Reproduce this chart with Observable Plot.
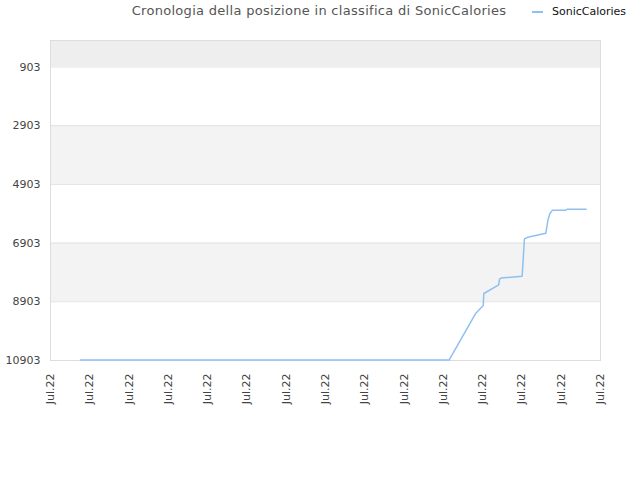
<!DOCTYPE html>
<html>
<head>
<meta charset="utf-8">
<script src="https://cdn.jsdelivr.net/npm/d3@7"></script>
<script src="https://cdn.jsdelivr.net/npm/@observablehq/plot@0.6"></script>
<style>
  body { margin: 0; background: #fff; font-family: "DejaVu Sans", sans-serif; }
  #wrap { position: relative; width: 640px; height: 480px; }
  #title { position: absolute; left: 0; width: 640px; top: 3px; text-align: center; font-size: 13px; color: #555; letter-spacing: 0.3px; padding-right: 0px; box-sizing: border-box; }
  #title span { position: relative; left: -1px; }
  #legend { position: absolute; left: 532px; top: 5px; font-size: 11px; color: #111; display: flex; align-items: center; }
  #legend i { display: inline-block; width: 11px; height: 2px; background: #90c0f2; margin-right: 9px; }
  svg { position: absolute; left: 0; top: 0; }
</style>
</head>
<body>
<div id="wrap">
  <div id="title"><span>Cronologia della posizione in classifica di SonicCalories</span></div>
  <div id="legend"><i></i>SonicCalories</div>
</div>
<script>
const seriesName = "SonicCalories";
const dates = [
  "2022-07-02T12:40", "2022-07-21T07:00", "2022-07-22T15:20", "2022-07-23T00:45",
  "2022-07-23T01:25", "2022-07-23T03:35", "2022-07-23T19:40", "2022-07-23T20:40",
  "2022-07-23T22:20", "2022-07-25T00:15", "2022-07-25T03:05", "2022-07-25T07:10",
  "2022-07-26T05:15", "2022-07-26T07:40", "2022-07-26T10:05", "2022-07-26T13:00",
  "2022-07-27T05:45", "2022-07-27T07:10", "2022-07-28T06:30"
];
const ranks = [
  10890, 10890, 9302, 9030,
  8621, 8587, 8324, 8127,
  8093, 8035, 6760, 6703,
  6566, 6134, 5905, 5786,
  5783, 5749, 5749
];
const yTicks = [903, 2903, 4903, 6903, 8903, 10903];
const yDomain = [1, 10903];
const xTickDates = [
  "2022-07-01", "2022-07-03", "2022-07-05", "2022-07-07", "2022-07-09",
  "2022-07-11", "2022-07-13", "2022-07-15", "2022-07-17", "2022-07-19",
  "2022-07-21", "2022-07-23", "2022-07-25", "2022-07-27", "2022-07-29"
];
const xTickLabel = "Jul.22";

const parse = s => new Date(s.length === 10 ? s + "T00:00" : s);
const data = dates.map((d, i) => ({date: parse(d), rank: ranks[i]}));
const xTicks = xTickDates.map(parse);
const bounds = [yDomain[0], ...yTicks];
const bands = bounds.slice(0, -1).map((b, i) => ({y1: b, y2: bounds[i + 1], i}));

const chart = Plot.plot({
  width: 640,
  height: 480,
  marginLeft: 50,
  marginRight: 40,
  marginTop: 40,
  marginBottom: 120,
  style: {fontFamily: "DejaVu Sans, sans-serif", background: "transparent"},
  x: {type: "time", domain: [xTicks[0], xTicks[xTicks.length - 1]]},
  y: {domain: yDomain, reverse: true},
  marks: [
    Plot.rect(bands, {y1: "y1", y2: "y2", fill: d => d.i === 0 ? "#eeeeee" : (d.i % 2 === 0 ? "#f3f3f3" : "#ffffff")}),
    Plot.ruleY(yTicks, {stroke: "#e2e2e2"}),
    Plot.frame({stroke: "#dddddd"}),
    Plot.line(data, {x: "date", y: "rank", stroke: "#90c0f2", strokeWidth: 1.5}),
    Plot.axisY({ticks: yTicks, tickSize: 0, tickPadding: 10, fontSize: 11, fill: "#444", tickFormat: d => String(d)}),
    Plot.axisX({ticks: xTicks, tickFormat: () => xTickLabel, tickRotate: -90, tickSize: 0, tickPadding: 13, fontSize: 11, fill: "#444"})
  ]
});
document.getElementById("wrap").prepend(chart);
</script>
</body>
</html>
